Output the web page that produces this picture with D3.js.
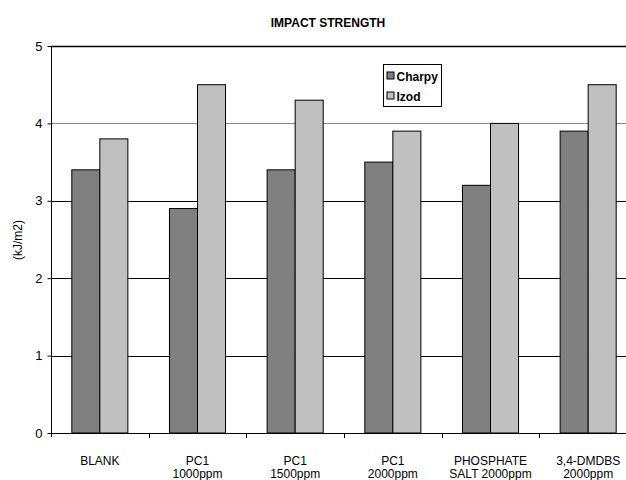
<!DOCTYPE html>
<html>
<head>
<meta charset="utf-8">
<script src="https://cdn.jsdelivr.net/npm/d3@7/dist/d3.min.js"></script>
<style>
  html, body { margin: 0; padding: 0; background: #fff; }
  svg { display: block; }
  text { font-family: Arial, "Liberation Sans", sans-serif; fill: #000; }
</style>
</head>
<body>
<svg id="chart" width="626" height="480"></svg>
<script>
// Impact strength per formulation
const categories = ["BLANK", "PC1\n1000ppm", "PC1\n1500ppm", "PC1\n2000ppm", "PHOSPHATE\nSALT 2000ppm", "3,4-DMDBS\n2000ppm"];
const seriesNames = ["Charpy", "Izod"];
const charpy = [3.4, 2.9, 3.4, 3.5, 3.2, 3.9];
const izod = [3.8, 4.5, 4.3, 3.9, 4.0, 4.5];
const yTicks = [0, 1, 2, 3, 4, 5];
const colors = ["#808080", "#c0c0c0"];

const svg = d3.select("#chart");
const plot = { left: 51, right: 637, top: 46, bottom: 433 };

const x0 = d3.scaleBand()
  .domain(categories)
  .range([plot.left, plot.right])
  .paddingInner(0.426)
  .paddingOuter(0.213);
const x1 = d3.scaleBand()
  .domain(seriesNames)
  .range([0, x0.bandwidth()]);
const y = d3.scaleLinear().domain([0, 5]).range([plot.bottom, plot.top]);

// horizontal gridlines
svg.append("g").selectAll("line")
  .data(yTicks.filter(d => d > 0))
  .join("line")
  .attr("x1", plot.left).attr("x2", 626)
  .attr("y1", d => Math.round(y(d)) + 0.5).attr("y2", d => Math.round(y(d)) + 0.5)
  .attr("stroke", d => d === 4 ? "#8a8a8a" : "#000")
  .attr("stroke-width", d => d === 5 ? 1.6 : 1);

// bars
const rows = categories.map((c, i) => ({ cat: c, vals: [charpy[i], izod[i]] }));
svg.append("g").selectAll("g")
  .data(rows)
  .join("g")
  .attr("transform", d => `translate(${x0(d.cat)},0)`)
  .selectAll("rect")
  .data(d => d.vals.map((v, k) => ({ key: seriesNames[k], v, k })))
  .join("rect")
  .attr("x", d => x1(d.key))
  .attr("y", d => y(d.v))
  .attr("width", x1.bandwidth())
  .attr("height", d => y(0) - y(d.v))
  .attr("fill", d => colors[d.k])
  .attr("stroke", "#000")
  .attr("stroke-width", 1);

// y axis
const yAxis = d3.axisLeft(y).tickValues(yTicks).tickSize(4).tickPadding(5).tickFormat(d3.format("d"));
const gy = svg.append("g").attr("transform", `translate(${plot.left + 0.5},0)`).call(yAxis);
gy.select(".domain").attr("d", `M0,${plot.top}V${plot.bottom + 4}`).attr("stroke", "#000");
gy.selectAll(".tick line").attr("stroke", "#000");
gy.selectAll("text").style("font-size", "13px").attr("fill", "#000");

// x axis with ticks at category boundaries
svg.append("line")
  .attr("x1", plot.left).attr("x2", 626)
  .attr("y1", plot.bottom + 0.5).attr("y2", plot.bottom + 0.5)
  .attr("stroke", "#000");
const step = x0.step();
svg.append("g").selectAll("line")
  .data(d3.range(1, categories.length + 1))
  .join("line")
  .attr("x1", i => Math.round(plot.left + i * step) + 0.5)
  .attr("x2", i => Math.round(plot.left + i * step) + 0.5)
  .attr("y1", plot.bottom).attr("y2", plot.bottom + 5)
  .attr("stroke", "#000");

// category labels
const lab = svg.append("g").selectAll("text")
  .data(categories)
  .join("text")
  .attr("text-anchor", "middle")
  .style("font-size", "12px")
  .attr("transform", d => `translate(${x0(d) + x0.bandwidth() / 2},465)`);
lab.selectAll("tspan")
  .data(d => d.split("\n"))
  .join("tspan")
  .attr("x", 0)
  .attr("dy", (d, i) => i === 0 ? 0 : 12.5)
  .text(d => d);

// y axis title
svg.append("text")
  .attr("transform", "translate(22,240) rotate(-90)")
  .attr("text-anchor", "middle")
  .style("font-size", "12px")
  .text("(kJ/m2)");

// chart title
svg.append("text")
  .attr("x", 328).attr("y", 27)
  .attr("text-anchor", "middle")
  .style("font-size", "12px")
  .style("font-weight", "bold")
  .text("IMPACT STRENGTH");

// legend
const lg = svg.append("g").attr("transform", "translate(383.5,64.5)");
lg.append("rect").attr("width", 58).attr("height", 42)
  .attr("fill", "#fff").attr("stroke", "#000");
seriesNames.forEach((name, k) => {
  lg.append("rect")
    .attr("x", 3.5).attr("y", 7.5 + k * 20)
    .attr("width", 7).attr("height", 7)
    .attr("fill", colors[k]).attr("stroke", "#000");
  lg.append("text")
    .attr("x", 13).attr("y", 16 + k * 20)
    .style("font-size", "12px")
    .style("font-weight", "bold")
    .text(name);
});
</script>
</body>
</html>
